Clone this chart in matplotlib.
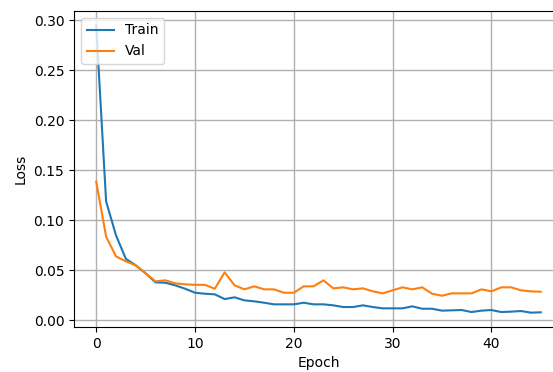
import matplotlib
matplotlib.use("Agg")
import matplotlib.pyplot as plt

epochs = list(range(46))
train_loss = [
    0.295, 0.119, 0.085, 0.0615, 0.055, 0.047, 0.038, 0.0376, 0.035, 0.0316,
    0.0276, 0.0266, 0.026, 0.0213, 0.023, 0.020, 0.019, 0.0176, 0.016, 0.016,
    0.016, 0.0176, 0.016, 0.016, 0.015, 0.0133, 0.0133, 0.015, 0.0133, 0.012,
    0.012, 0.012, 0.014, 0.0116, 0.0116, 0.0097, 0.010, 0.0103, 0.0083, 0.0097,
    0.0103, 0.0083, 0.0087, 0.0093, 0.0077, 0.008,
]
val_loss = [
    0.1386, 0.0837, 0.064, 0.059, 0.055, 0.047, 0.039, 0.040, 0.037, 0.036,
    0.0355, 0.0355, 0.0316, 0.048, 0.035, 0.031, 0.034, 0.031, 0.031, 0.0276,
    0.0276, 0.034, 0.034, 0.040, 0.032, 0.033, 0.031, 0.032, 0.029, 0.027,
    0.030, 0.033, 0.031, 0.033, 0.0266, 0.0246, 0.027, 0.027, 0.027, 0.031,
    0.029, 0.033, 0.033, 0.030, 0.029, 0.0286,
]

W, H = 553, 372
fig = plt.figure(figsize=(W / 100, H / 100), dpi=100)
# axes run a little past the right edge, as in the cropped original
ax = fig.add_axes([74 / W, (H - 327) / H, (563 - 74) / W, (327 - 11) / H])

ax.plot(epochs, train_loss, label="Train")
ax.plot(epochs, val_loss, label="Val")
ax.set_xlabel("Epoch")
ax.set_ylabel("Loss")
ax.set_yticks([0.0, 0.05, 0.10, 0.15, 0.20, 0.25, 0.30])
ax.grid(True, linewidth=1.0)
ax.legend(loc="upper left")

fig.savefig("out.png", dpi=100)
